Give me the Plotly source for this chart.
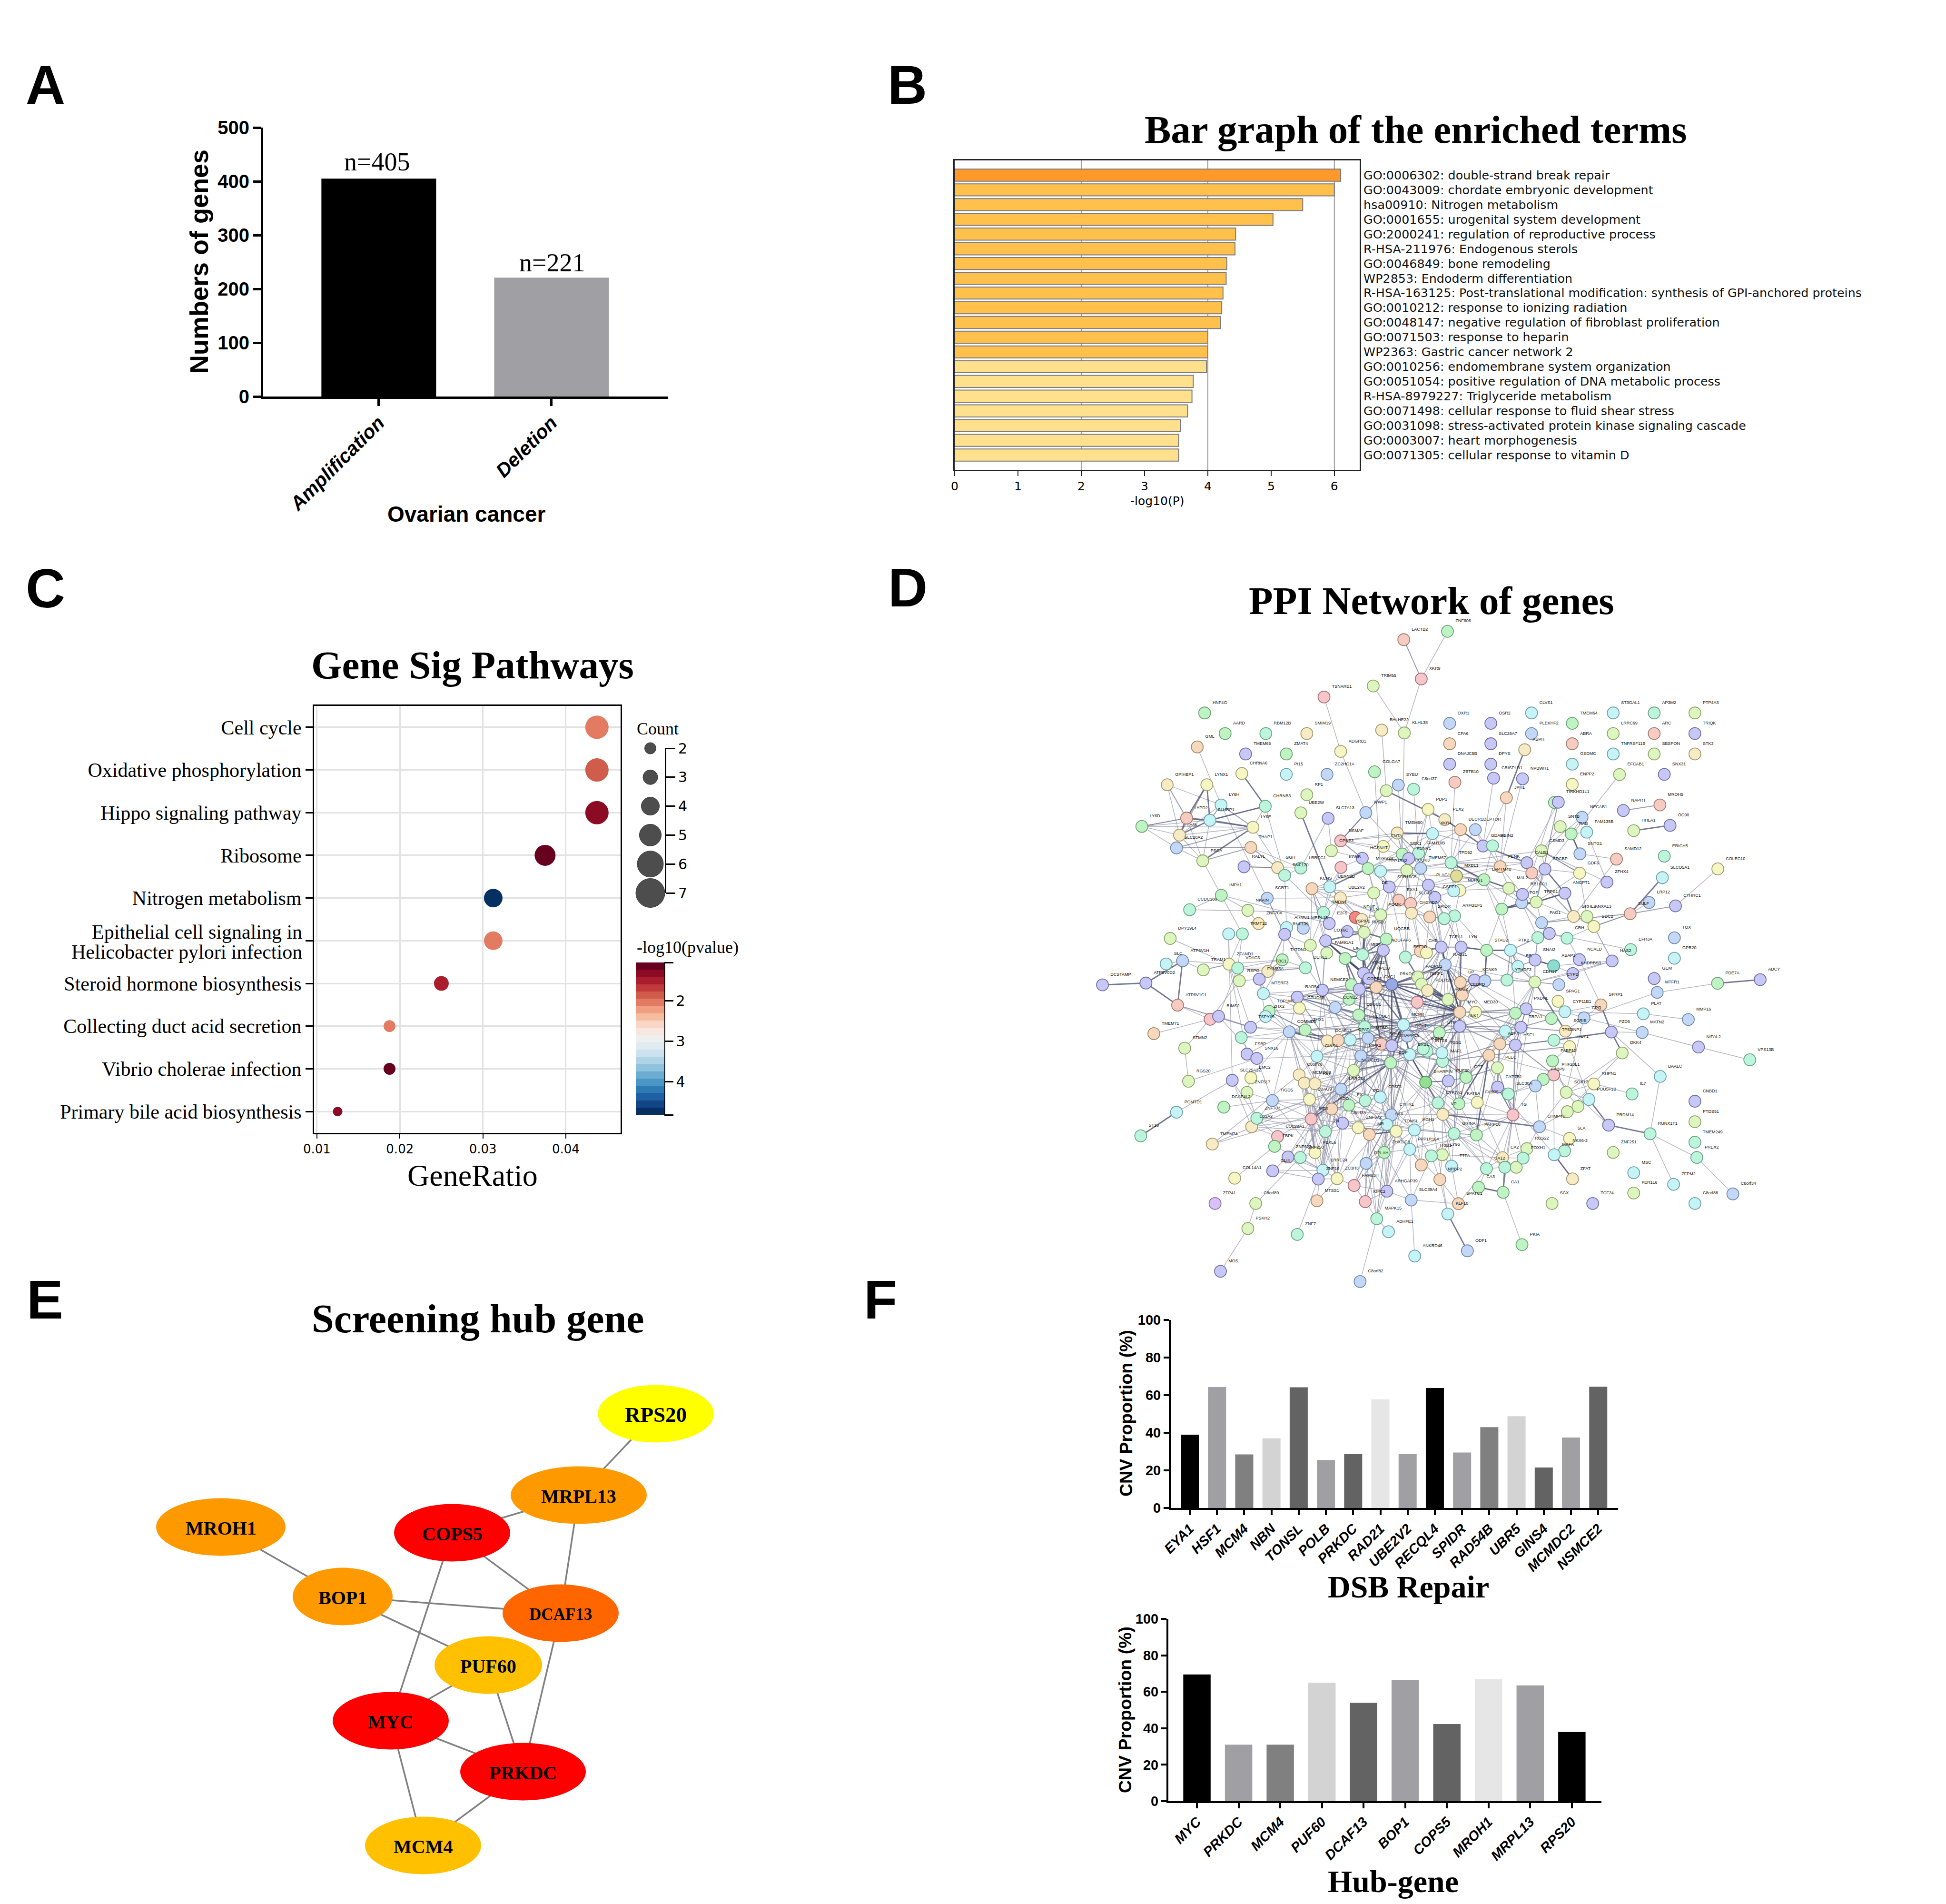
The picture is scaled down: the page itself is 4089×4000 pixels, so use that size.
import plotly.graph_objects as go

W, H = 4089, 4000
SANS, SERIF, DJ = "Liberation Sans", "Liberation Serif", "DejaVu Sans"

# ---------- Panel A
a_cats = ["Amplification", "Deletion"]
a_vals = [405, 221]
a_cols = ["#000000", "#A0A0A4"]
a_notes = ["n=405", "n=221"]

# ---------- Panel B
b_terms = ["GO:0006302: double-strand break repair", "GO:0043009: chordate embryonic development",
           "hsa00910: Nitrogen metabolism", "GO:0001655: urogenital system development",
           "GO:2000241: regulation of reproductive process", "R-HSA-211976: Endogenous sterols",
           "GO:0046849: bone remodeling", "WP2853: Endoderm differentiation",
           "R-HSA-163125: Post-translational modification: synthesis of GPI-anchored proteins",
           "GO:0010212: response to ionizing radiation", "GO:0048147: negative regulation of fibroblast proliferation",
           "GO:0071503: response to heparin", "WP2363: Gastric cancer network 2",
           "GO:0010256: endomembrane system organization", "GO:0051054: positive regulation of DNA metabolic process",
           "R-HSA-8979227: Triglyceride metabolism", "GO:0071498: cellular response to fluid shear stress",
           "GO:0031098: stress-activated protein kinase signaling cascade", "GO:0003007: heart morphogenesis",
           "GO:0071305: cellular response to vitamin D"]
b_vals = [6.1, 6.0, 5.5, 5.03, 4.44, 4.43, 4.3, 4.29, 4.24, 4.22, 4.2, 4.0, 4.0, 3.98, 3.77, 3.75, 3.68, 3.57, 3.54, 3.54]
b_cols = ["#FF9A2A"] + ["#FFC04C"] * 12 + ["#FFE08C"] * 7

# ---------- Panel C
c_paths = ["Cell cycle", "Oxidative phosphorylation", "Hippo signaling pathway", "Ribosome", "Nitrogen metabolism",
           "Epithelial cell signaling in Helicobacter pylori infection", "Steroid hormone biosynthesis",
           "Collecting duct acid secretion", "Vibrio cholerae infection", "Primary bile acid biosynthesis"]
c_two_line = ["Epithelial cell signaling in", "Helicobacter pylori infection"]
c_ratio = [0.04375, 0.04375, 0.04375, 0.0375, 0.03125, 0.03125, 0.025, 0.01875, 0.01875, 0.0125]
c_count = [7, 7, 7, 6, 5, 5, 4, 3, 3, 2]
c_logp = [2.1, 1.9, 1.4, 1.08, 4.8, 2.1, 1.45, 2.0, 1.12, 1.35]
c_point_size = {2: 20, 3: 25, 4: 31, 5: 39, 6: 44, 7: 49}
c_legend_counts = [2, 3, 4, 5, 6, 7]
c_legend_size = [24, 31, 38, 46, 55, 61]
c_scale_cols = ["#053061", "#124585", "#1E60A4", "#2E7AB5", "#4A96C4", "#6BACD1", "#8FC2DD", "#B0D3E6", "#CDE2EF", "#DFEAF1",
                "#EEF0F0", "#F6E7E0", "#FAD6C6", "#F6BCA0", "#F0A080", "#E27B62", "#D05C4C", "#C03A3A", "#AB1C2D", "#8B0B25", "#67001F"]

# ---------- Panel D: nodes as read from four reading frames (frame units)
d_fill = dict(a="#C8C8F6", b="#C2D8F6", c="#C5F3F6", t="#BDF4DC", g="#C0F3C4", l="#DDF5BF", y="#F6F6C4",
              s="#F6EBC4", o="#F6D8BE", p="#F6CCC2", r="#F6C6CA", R="#F58484", D="#DEDE98", B="#98A8E2", G="#94DE94", T="#8EDCD0", V="#D8C0F8")
d_line = dict(a="#7070A8", b="#7088AC", c="#70A0A8", t="#6CA48C", g="#6CA474", l="#90A46C", y="#A0A06C",
              s="#A4986C", o="#A48864", p="#A47C6C", r="#A47074", R="#A45454", D="#888854", B="#546498", G="#549854", T="#54988C", V="#8C70A8")
d_q1 = [("ZNF606",1379,171,"g"),("LACTB2",1219,210,"p"),("XKR9",1283,395,"r"),("TRIM55",1107,428,"l"),("TSNARE1",927,480,"r"),
 ("HNF4G",490,555,"g"),("AARD",565,652,"g"),("RBM12B",714,652,"t"),("SMIM19",864,652,"s"),("GML",463,715,"o"),("BHLHE22",1138,636,"s"),
 ("KLHL38",1221,649,"l"),("OXR1",1387,604,"b"),("TMEM65",640,748,"a"),("ZMAT4",789,748,"g"),("ADGRB1",988,736,"y"),("PI15",789,844,"c"),
 ("ZC2HC1A",938,844,"b"),("GOLGA7",1112,832,"g"),("CPA6",1387,700,"o"),("DNAJC5B",1387,796,"a"),("CHRNA6",626,840,"y"),("GPIHBP1",353,893,"s"),
 ("LYNX1",498,893,"y"),("SYBU",1199,894,"b"),("C8orf37",1255,914,"t"),("#1",1155,921,"l"),("ZBTB10",1406,881,"p"),("RP1",864,940,"l"),
 ("LY6H",550,988,"c"),("CHRNB3",712,994,"t"),("PDP1",1308,1009,"y"),("UBE2W",842,1025,"l"),("WWP1",1080,1024,"b"),("SLC7A13",942,1051,"a"),
 ("LYPD2",424,1050,"p"),("SLURP1",509,1060,"c"),("PEX2",1369,1057,"s"),("LY6D",260,1089,"g"),("LY6E",667,1093,"y"),("XKR4",1324,1123,"c"),
 ("TMEM60",1195,1120,"s"),("DECR1",1427,1104,"o"),("DEPTOR",1481,1104,"b"),("LY6K",398,1130,"s"),("NSMAF",988,1157,"r"),("SLC20A2",387,1190,"b"),
 ("THAP1",659,1188,"o"),("FNTA",1144,1183,"y"),("CPNE3",954,1204,"l"),("GDAP1",1509,1181,"a"),("SGIN2",1544,1180,"t"),("SGK1",1213,1219,"g"),
 ("FAM110B",1273,1215,"t"),("KCNV1",1237,1240,"a"),("HGSNAT",1067,1239,"a"),("PSCA",483,1251,"l"),("TPD52",1392,1260,"t"),("RALYL",634,1279,"a"),
 ("GGH",757,1283,"s"),("RNF170",783,1319,"t"),("LRRCC1",842,1285,"t"),("KCNB",989,1282,"r"),("MRPS28",1088,1287,"g"),("PPP1R42",1134,1300,"c"),
 ("HOOK3",1230,1296,"l"),("TMEM67",1281,1286,"b"),("MXBL1",1412,1322,"D"),("KCNS",883,1382,"o"),("UBXN2B",948,1373,"c"),("PLAG1",1309,1365,"a"),
 ("SDR16C5",1166,1374,"a"),("DE",1109,1402,"l"),("NDRG1",1424,1390,"y"),("#2",1402,1393,"c"),("CSPP1",1333,1423,"a"),("IMPA1",551,1413,"g"),
 ("SCRT1",719,1427,"b"),("UBE2V2",987,1425,"s"),("SLC45",1244,1452,"p"),("EXA1",1201,1436,"p"),("SPIDR",1314,1515,"o"),("ARFGEF1",1405,1510,"t"),
 ("#3",1367,1523,"t"),("CCDC166",435,1481,"t"),("NKAIN",648,1484,"l"),("RMDN1",925,1494,"t"),("CHCHD7",1247,1497,"s"),("POMK",1134,1505,"l"),
 ("NDUF",1042,1517,"R"),("KCN",1065,1527,"s"),("E2F5",946,1546,"a"),("ZNF704",687,1546,"s"),("ARMC1",790,1565,"c"),("MRPL15",851,1568,"b")]
d_q2 = [("OSR2",231,604,"a"),("CLVS1",380,555,"c"),("TMEM64",529,604,"g"),("ST3GAL1",679,555,"c"),("AP3M2",829,555,"t"),("PTP4A3",978,555,"l"),
 ("PLEKHF2",380,652,"b"),("SLC26A7",231,700,"a"),("ABRA",529,700,"p"),("LRRC69",679,652,"l"),("ARC",829,652,"p"),("TRIQK",978,652,"a"),
 ("ASPH",355,728,"s"),("DPYS",231,796,"a"),("GSDMC",529,796,"c"),("TNFRSF11B",679,748,"c"),("SBSPON",829,748,"l"),("STK3",978,748,"s"),
 ("CRISPLD1",241,862,"a"),("NPBWR1",347,865,"a"),("ENPP2",529,891,"y"),("EFCAB1",702,845,"l"),("SNX31",866,844,"a"),("JPH1",288,954,"o"),
 ("#30",464,976,"g"),("TIRKHD1L1",478,975,"a"),("NAPRT",716,1014,"a"),("MROH5",850,988,"p"),("NECAB1",565,1046,"b"),("OC90",887,1084,"a"),
 ("HHLA1",754,1109,"l"),("SNTB",485,1090,"l"),("RAB",525,1124,"g"),("FAM135B",582,1116,"c"),("ERICH5",866,1229,"t"),("CSMD3",416,1204,"l"),
 ("SNTG1",557,1218,"b"),("SAMD12",691,1243,"p"),("COLEC10",1062,1289,"y"),("CALB1",363,1260,"a"),("PENK",265,1278,"o"),("GDF6",556,1309,"y"),
 ("SDCBP",429,1290,"a"),("#31",381,1308,"p"),("ZFHX4",656,1351,"a"),("SLCO5A1",859,1330,"c"),("MAL2",297,1380,"l"),("ANGPT1",502,1403,"a"),
 ("FGF",344,1448,"b"),("RB1CC1",347,1409,"a"),("TRPS1",397,1445,"l"),("LRP12",810,1447,"b"),("CTHRC1",907,1463,"a"),("#32",271,1478,"g"),
 ("GRHL2",534,1513,"s"),("ANXA13",583,1513,"l"),("SULF",741,1500,"p"),("PAG1",417,1542,"b"),("SDC2",608,1560,"y"),("LAPTM4B",206,1340,"g")]
d_q3 = [("DPY19L4",364,45,"l"),("#4",578,25,"c"),("TRMT12",628,25,"t"),("RNF139",783,27,"a"),("YSPIP1",1012,15,"a"),("RPS20",1074,18,"l"),
 ("UQCRB",1155,48,"g"),("COX6C",933,55,"a"),("#5",877,75,"l"),("FAM91A1",937,109,"l"),("ATP6V1H",409,143,"b"),("SLC",349,157,"c"),("TRAM1",485,183,"l"),
 ("ZFAND1",579,158,"y"),("VDAC3",611,175,"t"),("TATDN1",774,139,"g"),("TBC1",721,190,"s"),("FAM83A",690,224,"a"),("RSPO",617,231,"l"),("DERL1",859,174,"t"),
 ("MRP",1068,116,"t"),("EIF",1004,133,"g"),("NDUFAF6",1144,97,"a"),("EEF1D",1225,127,"t"),("CHE",1280,101,"o"),("#6",1302,108,"y"),("TCEA1",1356,83,"a"),
 ("LYN",1429,83,"a"),("STAU2",1522,97,"g"),("RAD21",1371,160,"b"),("ATP6V0D2",275,241,"a"),("DCSTAMP",116,249,"a"),("ATP6V1C1",391,338,"p"),("MTERF3",705,287,"c"),
 ("ATAD2",1072,197,"a"),("RPL30",1091,222,"a"),("CYC1",1118,260,"o"),("PRKDC",1175,247,"B"),("PABPC1",1270,214,"l"),("TERF1",1284,245,"l"),("POLR2K",1306,274,"s"),
 ("NSMCE2",921,272,"a"),("#7",1027,248,"g"),("COPS5",1056,268,"a"),("RAD54",829,303,"a"),("CCNE2",968,348,"b"),("#8",1019,312,"g"),("DSCC1",1054,381,"g"),
 ("GTUD6B",837,351,"y"),("TOP1MT",726,365,"g"),("ZHX2",713,388,"c"),("TSPYL5",658,435,"a"),("#9",510,400,"r"),("RIMS2",541,387,"a"),("TMEM71",304,463,"o"),
 ("COMMD5",800,455,"b"),("ZHX1",858,447,"g"),("RECQL4",1076,433,"t"),("MCM4",1218,424,"c"),("UTP",1349,459,"g"),("ANK1",1424,431,"a"),("MYC",1424,369,"o"),
 ("MED30",1482,369,"y"),("AGO2",1381,313,"l"),("CEBPD",1433,293,"o"),("UP",1426,238,"o"),("#11",1268,325,"r"),("KCNK9",1478,228,"a"),("#12",1516,231,"b"),
 ("MTBP",1088,483,"b"),("DCAF13",939,495,"s"),("#13",979,493,"o"),("GPAT",1023,490,"c"),("SQLE",1137,509,"p"),("TRAPPC9",1175,516,"a"),("DGAT1",1232,474,"b"),
 ("INTS8",1304,540,"t"),("IKBKB",1290,530,"t"),("BRS1",1241,555,"c"),("MAF1",1361,585,"t"),("TGS1",1359,547,"c"),("RIPK2",1062,561,"b"),("GINS4",901,563,"c"),
 ("BOP",1171,591,"g"),("NUDCD1",1035,625,"l"),("FSBP",645,553,"a"),("SNX16",681,572,"a"),("#14",624,480,"t"),("STMN2",417,527,"l"),("RGS20",431,672,"l"),
 ("EMC2",659,657,"y"),("SLC25A32",591,668,"a"),("C8orf76",836,644,"s"),("MCMDC2",855,680,"s"),("R97",894,683,"s"),("LRRC14",989,707,"b"),("SHARPIN",1299,676,"G"),
 ("PUF60",1382,671,"a"),("GPT",1447,655,"g"),("ZNF517",645,721,"l"),("EBAG9",874,752,"y"),("TIGD5",738,757,"b"),("CPSF1",1133,742,"c"),("EX",1018,777,"g"),
 ("PD",1078,758,"t"),("DCAF4L2",560,786,"g"),("PCMTD1",387,808,"c"),("CYP7A1",1344,767,"t"),("KAT6A",1421,771,"g"),("FABP5",1488,765,"y"),("MFS",880,838,"r"),
 ("ADO",955,794,"o"),("CYHR1",1174,820,"b"),("C8orf33",995,856,"a"),("VP",1362,818,"s"),("C52A2",662,872,"s"),("ZNF707",681,835,"t"),("ST18",256,912,"t"),
 ("ZNF572",1052,876,"y"),("AAX",1157,862,"c"),("MR",1093,906,"o"),("TONSL",1191,892,"y"),("HGH1",1258,886,"c"),("ZN",932,893,"t"),("GRINA",1403,902,"t"),
 ("PARP10",1485,908,"g"),("TMEM74",518,948,"s"),("COL22A1",757,915,"r"),("FBPK",746,958,"g"),("ZNF623",795,1005,"a"),("ZNF250",840,1007,"t"),("FBXL6",894,986,"y"),
 ("ZHX1-C8",1147,985,"g"),("PPP1R16A",1241,971,"c"),("LY96",1360,995,"l"),("TRIB1",1320,1000,"t"),("OPLAH",1081,1033,"b"),("TTPA",1394,1045,"c"),("COL14A1",600,1098,"y"),
 ("GLI4",739,1066,"a"),("LRRC24",923,1063,"c"),("ZNF16",906,1102,"a"),("ZC3H3",975,1100,"y"),("#15",1283,1040,"o"),("NRBP2",1351,1104,"o"),("FAM83H",1037,1130,"r"),
 ("ARHGAP39",1157,1155,"a"),("SLC39A4",1246,1194,"b"),("ZFP41",528,1209,"V"),("C8orf89",677,1209,"l"),("MTSS1",901,1197,"o"),("KIFC2",1078,1201,"r"),("SPATC1",1419,1210,"o"),
 ("KLF10",1380,1255,"c"),("MAPK15",1120,1276,"t"),("PSKH2",648,1319,"l"),("ZNF7",829,1345,"t"),("ADHFE1",1163,1333,"c"),("ODF1",1452,1417,"b"),("ANKRD46",1259,1440,"c"),
 ("MOS",548,1507,"a"),("C8orf82",1059,1552,"b")]
d_q4 = [("TOX",903,42,"b"),("GPR20",903,132,"c"),("EFR3A",743,94,"t"),("GEM",829,221,"a"),("PDE7A",1061,242,"g"),("ADCY",1217,226,"a"),("MTFR1",840,282,"b"),("NCALD",555,138,"a"),
 ("HAS2",675,144,"a"),("ASAP1",461,165,"T"),("KHDRBS3",531,199,"a"),("CDH17",392,236,"l"),("SNAI2",393,140,"a"),("PTK2",303,97,"c"),("YTHDF3",290,228,"t"),("RR",330,168,"c"),
 ("CRH",510,44,"t"),("#17",403,41,"t"),("#16",445,23,"a"),("CYP2",480,248,"b"),("SPAG1",477,321,"y"),("PXDNL",360,354,"a"),("CYP11B1",502,367,"c"),("SFRP1",634,337,"o"),
 ("CPQ",572,394,"b"),("PLAT",789,376,"c"),("MMP16",954,401,"b"),("#18",321,373,"g"),("#19",453,397,"g"),("TRPA1",341,435,"a"),("SCRIB",504,452,"s"),("FZD6",672,456,"a"),
 ("MATN2",785,458,"b"),("#20",284,452,"c"),("ABP4",264,508,"o"),("HSF1",321,513,"a"),("TP53INP1",462,492,"t"),("HEY1",519,520,"y"),("DKK4",712,548,"l"),("NIPAL2",991,522,"a"),
 ("VPS13B",1179,578,"t"),("FABP12",457,583,"g"),("#21",224,558,"o"),("PLEC",255,613,"l"),("PHF20L1",461,644,"r"),("BAALC",851,651,"c"),("FABP9",423,664,"g"),("RHPN1",608,684,"y"),
 ("SOX17",507,721,"l"),("CYP7B1",256,698,"a"),("SLC30A",295,728,"t"),("#22",394,693,"b"),("IL7",748,728,"t"),("POU5F1B",590,752,"c"),("CNBD1",978,760,"a"),("#23",550,783,"l"),
 ("#24",511,806,"l"),("TG",312,820,"r"),("PRDM14",662,865,"a"),("CHMP4C",409,872,"b"),("PTDS51",978,850,"l"),("RUNX1T1",814,903,"t"),("SLA",519,923,"y"),("TMEM249",978,940,"t"),
 ("RGS22",363,968,"l"),("NKX6-3",501,978,"t"),("ZNF251",679,985,"l"),("CA2",274,1008,"s"),("#26",324,1050,"l"),("FOXH1",349,1010,"t"),("MAFA",463,995,"c"),("PREX2",985,1007,"t"),
 ("CA12",215,1056,"t"),("#25",282,1050,"t"),("MSC",754,1074,"c"),("ZFAT",530,1101,"s"),("ZFPM2",900,1125,"c"),("CA3",186,1138,"g"),("CA1",276,1160,"g"),("FER1L6",754,1163,"l"),
 ("C8orf34",1117,1167,"b"),("SCX",455,1209,"l"),("TCF24",604,1209,"a"),("C8orf88",978,1209,"c"),("PKIA",345,1390,"g")]

d_edges_thin = """
ZNF606: XKR9
XKR9: KLHL38
TRIM55: KLHL38
TSNARE1: ADGRB1
ADGRB1: WWP1
KLHL38: SGK1
BHLHE22: #1
GOLGA7: PPP1R42
GML: LY6H
SYBU: SGK1
C8orf37: FAM110B
ZBTB10: TPD52
WWP1: #1 KCNV1
SLC7A13: CPNE3 LRRCC1
LY6H: SCRT1 LY6K
LY6E: RNF170 CHRNB3 LY6K
THAP1: LRRCC1
LYPD2: LY6D PSCA
LY6D: SLC20A2 LY6K SLURP1 LY6E
GPIHBP1: LY6K LY6H
SLURP1: CHRNB3 PSCA
CHRNB3: RNF170
LY6K: PSCA
SLC20A2: PSCA
PSCA: IMPA1
IMPA1: CCDC166 NKAIN E2F5 TRMT12
RALYL: GGH
RNF170: ARMC1 LRRCC1 RMDN1
SCRT1: UBE2V2
NKAIN: ZNF704
CCDC166: RMDN1
GGH: LRRCC1
NSMAF: TMEM60 WWP1 CPNE3 FNTA SGK1 DECR1
TMEM60: XKR4 FNTA SGK1 HOOK3 TMEM67
XKR4: TPD52 FAM110B MRPS28 PDP1 GDAP1
PDP1: FAM110B HOOK3 DECR1
DECR1: TPD52 MXBL1 KCNV1
DEPTOR: GDAP1 TPD52 PENK
SGIN2: GDAP1 LAPTM4B PENK
CRISPLD1: GDAP1
NPBWR1: PENK
JPH1: GDAP1 PENK
TIRKHD1L1: CALB1 #30
#30: #31
EFCAB1: SDCBP
SNTB: RAB CSMD3
FAM135B: RAB ZFHX4
NECAB1: RAB CSMD3
CSMD3: CALB1 SDCBP GDF6 TPD52
SNTG1: SAMD12
SAMD12: GRHL2
GDF6: SDCBP TRPS1 ANXA13
ZFHX4: CSMD3
COLEC10: CTHRC1
LRP12: SULF
MXBL1: #2 PLAG1 TPD52 PENK
HGSNAT: KCNB SDR16C5 CPNE3
KCNB: RMDN1 UBXN2B
MRPS28: PPP1R42 HOOK3 SGK1 DE SDR16C5 POMK KCNS
PPP1R42: SDR16C5 TMEM67 EXA1 TPD52 LAPTM4B
HOOK3: TMEM67 SDR16C5 PLAG1 SLC45 KCNV1
TMEM67: TPD52 PLAG1 CSPP1 CHCHD7 PENK
TPD52: PENK LAPTM4B CALB1 FGF #2
PLAG1: CSPP1 #2 NDRG1 SLC45 CHCHD7 LAPTM4B
SDR16C5: DE EXA1 SLC45 CHCHD7 POMK PLAG1
UBXN2B: UBE2V2 KCNS RMDN1 NDUF KCN
KCNS: RMDN1 E2F5 NDUF DE POMK
UBE2V2: RMDN1 KCN DE POMK E2F5
CSPP1: ARFGEF1 SPIDR #2 #3 CHCHD7
NDRG1: ARFGEF1 LAPTM4B MAL2
EXA1: SLC45 CHCHD7 POMK SPIDR
POMK: NDUF CHCHD7 KCN RPS20 UQCRB
CHCHD7: SPIDR #3 TCEA1 CHE
SPIDR: #3 TERF1 RAD21
ARFGEF1: #3 TCEA1 LYN RAD21
LAPTM4B: MAL2 #32 RR
MAL2: FGF RB1CC1 #32 PENK
PENK: #31 CALB1 RB1CC1
#32: FGF TRPS1 STAU2 PTK2
SDCBP: TRPS1 RB1CC1 FGF #31
TRPS1: PAG1 RB1CC1 GRHL2 FGF
FGF: PAG1 RB1CC1 #17 #16
GRHL2: ANXA13 PAG1 SDC2
SDC2: SULF CRH HAS2
#16: CRH #17
NCALD: CRH
HAS2: SDC2 KHDRBS3 CDH17 ASAP1
EFR3A: #16
DPY19L4: ZFAND1
ATP6V1H: SLC TRAM1 ZFAND1
ATP6V1C1: #9
TMEM71: #9
RIMS2: SNX16 TSPYL5 VDAC3
#9: RSPO
STMN2: RGS20 #9
RGS20: SNX16
TRMT12: ZFAND1 VDAC3
#4: SLC25A32 ZFAND1
ZFAND1: VDAC3 TATDN1 TSPYL5 FSBP
VDAC3: TBC1 DERL1 TATDN1
TATDN1: DERL1 TBC1 FAM83A MTERF3
RNF139: TATDN1 DERL1 NSMCE2 #5
FAM83A: RSPO MTERF3 ZHX2 COMMD5
MTERF3: NSMCE2 RAD54 GTUD6B
TOP1MT: GTUD6B COMMD5 DCAF13 MCM4
ZHX2: TSPYL5 COMMD5
TSPYL5: #14 COMMD5 ZHX1
#14: DCAF13 COMMD5
FSBP: SNX16 COMMD5
SNX16: TIGD5 GINS4
EMC2: ZNF517 COMMD5
SLC25A32: PCMTD1 C52A2 ZNF707
ZNF517: ZNF707 TIGD5
DCAF4L2: TIGD5
TMEM74: EX LRRC14 C8orf76
COMMD5: GINS4 TIGD5 ZHX1 C8orf76 MCMDC2 R97 LRRC14 EBAG9 ADO
GINS4: RIPK2 C8orf76 R97 LRRC14 EBAG9 DCAF13 NUDCD1 BOP
TIGD5: EBAG9 ADO MFS C52A2 FBXL6
C52A2: COL22A1 MFS ZN
COL22A1: FBPK MFS ZNF707
ZNF707: MFS EBAG9 LRRC14 ZN
FBPK: COL14A1 LRRC24
ZNF623: GLI4 ZNF250 LRRC24 FBXL6 ZNF16 MFS
ZNF250: C8orf89 MFS ADO FBXL6 ZC3H3
C8orf89: PSKH2
PSKH2: MOS
GLI4: LRRC24 ZNF16
ZNF16: ZNF7 LRRC24 ZC3H3 ADO
LRRC24: FBXL6 ADO C8orf33 ZN
MTSS1: ZC3H3 ZN
ZC3H3: MFS C8orf33 FAM83H ZN ZNF572
FAM83H: ARHGAP39 KIFC2 ZHX1-C8 OPLAH MR
ARHGAP39: KIFC2 MAPK15 SLC39A4 OPLAH ZHX1-C8 PPP1R16A HGH1
KIFC2: MAPK15 OPLAH MR
MAPK15: C8orf82 ADHFE1 OPLAH ZHX1-C8
SLC39A4: ANKRD46 PPP1R16A ZHX1-C8 TRIB1
SPATC1: NRBP2 TTPA SLC39A4 CA12
KLF10: NRBP2
NRBP2: TRIB1 LY96 PPP1R16A
TTPA: GRINA VP LY96
LY96: TRIB1 GRINA VP CA2
#15: PPP1R16A HGH1 TONSL
TRIB1: HGH1 GRINA
OPLAH: ZHX1-C8 MR TONSL
ZHX1-C8: PPP1R16A TONSL MR AAX HGH1
PPP1R16A: HGH1 GRINA PARP10 AAX
MFS: ZN ADO C8orf33 EX LRRC14 FBXL6
ZN: C8orf33 ZNF572 FBXL6 ADO EX
ADO: LRRC14 EX C8orf33 PD CYHR1 ZNF572
LRRC14: EX PD CPSF1 C8orf33 NUDCD1 R97 EBAG9 MCMDC2
EX: PD CPSF1 C8orf33 ZNF572 CYHR1 MR
PD: CPSF1 CYHR1 ZNF572 AAX
CPSF1: CYHR1 AAX BOP NUDCD1 HGH1
CYHR1: AAX TONSL HGH1 C8orf33 VP CYP7A1
C8orf33: ZNF572 AAX MR
ZNF572: MR AAX TONSL
AAX: MR TONSL HGH1 GRINA
TONSL: HGH1 MR
HGH1: GRINA PARP10 VP CYP7A1
VP: CYP7A1 GRINA PARP10 KAT6A TG CA12
KAT6A: FABP5 GPT PARP10 PUF60 GRINA
FABP5: PARP10 GPT #21 CA2
GRINA: PARP10 TG CA2 CA12 #25
PARP10: TG CA2 #21 PLEC CA12
TG: CHMP4C FOXH1 CA2 #22 SLC30A CYP7B1 CA12 #25 CA1
CA2: FOXH1 RGS22 #26 #25 CA12
CA3: CA1 CA12
CA12: #25
CA1: PKIA
CHMP4C: SLA #22 #24 SOX17 RGS22
MAFA: ZFAT NKX6-3 CYP7B1 PHF20L1
SOX17: RHPN1 POU5F1B #23 FABP12 DKK4
#24: #23 POU5F1B DKK4
FABP12: SOX17 HEY1
HEY1: POU5F1B TP53INP1 SCRIB
PHF20L1: FABP9 PRDM14
FABP9: SLC30A #22
#22: SLC30A
IL7: #21
BAALC: FZD6 RUNX1T1
RUNX1T1: ZFPM2 PREX2
PREX2: C8orf34
NIPAL2: VPS13B MATN2
MTFR1: PDE7A CPQ
PLAT: CYP11B1 MMP16
MATN2: FZD6 CPQ
KHDRBS3: CDH17 ASAP1
NCALD: SFRP1
SFRP1: CPQ CYP11B1
CPQ: SCRIB CYP11B1
SOX17: CPQ
#1: NSMAF SYBU
MYC: ZHX1 GINS4 RIPK2 BOP MTBP DCAF13 NSMCE2 RAD54 COMMD5 HSF1 PXDNL TG GRINA VP FABP5 CYP7A1 KAT6A SHARPIN
PRKDC: RAD54 NSMCE2 DSCC1 RECQL4 CCNE2 TGS1 MAF1 UTP ANK1 BOP GINS4 COMMD5
RAD21: BRS1 SHARPIN HSF1 CDH17 PXDNL TGS1 CEBPD #18 KAT6A
MCM4: GINS4 NUDCD1 PD LRRC14 ZHX1 GTUD6B COMMD5 CYHR1
BOP: ADO MFS R97 MCMDC2 AAX ZNF572 TONSL VP GRINA PARP10 HGH1
BRS1: AAX TONSL ZNF572 MR GRINA VP KAT6A
TRAPPC9: PD CPSF1 NUDCD1 SHARPIN CYHR1 MAF1
SQLE: RIPK2 CPSF1 ADO MFS GINS4
SHARPIN: TONSL AAX GRINA PARP10 VP KAT6A FABP5 KLF10 #15
LRRC14: MFS ZNF623 ZNF250 LRRC24 ZNF16 ZC3H3 AAX MR TONSL
R97: ZN MFS ADO FBXL6 C8orf33
C8orf76: LRRC14 MFS ZN FBXL6
MCMDC2: ZN FBXL6 LRRC24 ZNF16
EBAG9: FBXL6 C8orf33 ZN ZC3H3
CYHR1: ZC3H3 FAM83H OPLAH MR ZHX1-C8 ARHGAP39 KIFC2
AAX: ARHGAP39 OPLAH FAM83H KIFC2 MAPK15
TONSL: ARHGAP39 ZHX1-C8 MAPK15 PPP1R16A
MR: MAPK15 ARHGAP39
#13: ZN ADO R97
GPAT: PD EX CPSF1 ADO MFS
MTBP: PD EX LRRC14 CYHR1 AAX
UQCRB: RIPK2 BOP SQLE
RPS20: MCM4 BOP MTBP
NSMCE2: GINS4 DCAF13 #13 GPAT RIPK2
RAD54: GINS4 DSCC1 COMMD5
TCEA1: MCM4 DGAT1 BRS1
LYN: UTP ANK1 GRINA PUF60
CDH17: TG ABP4 GPT
PTK2: #18 CDH17
#18: TG KAT6A GPT
TRPA1: TG PLEC
PXDNL: HSF1 ABP4
FABP5: TG
HOOK3: MRP EEF1D CHE
SDR16C5: NDUFAF6 EEF1D
DE: UQCRB MRP
SLC45: EEF1D TCEA1
PLAG1: TCEA1 LYN STAU2
CSPP1: LYN TCEA1 RAD21
KCNS: COX6C FAM91A1 #5
RMDN1: #5 COX6C
NDUF: MRP
POMK: NDUFAF6 MRP
"""
d_edges_mid = """
LACTB2: XKR9
LYNX1: LY6K
GPIHBP1: LYPD2
LY6D: LYPD2
LY6H: SLURP1 LY6E
LY6E: SLC20A2 LYPD2
SLC20A2: THAP1
THAP1: PSCA GGH
GGH: RNF170 RALYL
WWP1: NSMAF
NSMAF: HGSNAT
TMEM60: FAM110B
XKR4: TMEM67
SCRT1: RNF139
NAPRT: MROH5
SNTB: RAB
SNTG1: RAB
TIRKHD1L1: TRPS1
CSMD3: GDF6
CTHRC1: SULF
SULF: SDC2 PAG1
TPD52: MXBL1
LAPTM4B: MXBL1
RB1CC1: MAL2
#31: GRHL2
TRPS1: ANGPT1 FGF
TRAM1: ZFAND1
ATP6V1C1: TSPYL5
TBC1: DERL1 RNF139
NSMCE2: RAD54 COPS5 MCM4 #7 #5 COX6C
RAD54: DCAF13 RECQL4 MCM4 COPS5
CCNE2: DSCC1 RECQL4 #8 RAD54 MCM4
DSCC1: RECQL4 MCM4 RIPK2 BRS1
RECQL4: MCM4 MTBP DGAT1 BRS1 SQLE UTP
MCM4: DGAT1 SQLE MTBP TRAPPC9 BRS1 TGS1 IKBKB MYC UTP ANK1
MTBP: GPAT #13 RIPK2 TRAPPC9 SQLE DGAT1
DCAF13: #13 GPAT BOP BRS1 MTBP TOP1MT
RIPK2: BOP BRS1 NUDCD1 MFS PD SQLE
BOP: BRS1 CPSF1 NUDCD1 LRRC14 TGS1 SHARPIN CYHR1
BRS1: TGS1 SHARPIN MAF1 UTP IKBKB SQLE INTS8 CYHR1 CYP7A1
NUDCD1: BOP CPSF1 LRRC14
SHARPIN: CYP7A1 PUF60 TGS1 ANK1 MAF1
TGS1: MAF1 UTP ANK1 GPT
MAF1: GPT #21 ABP4
UTP: ANK1 MYC AGO2 #20
ANK1: MYC #20 ABP4 #18 TRPA1
MED30: #18 PXDNL TRPA1 CEBPD
MYC: MED30 CEBPD AGO2 POLR2K TERF1 PABPC1 #11 UP KCNK9 LYN TCEA1 RAD21 TRAPPC9 SQLE CYC1 PRKDC ATAD2
AGO2: CEBPD POLR2K TERF1 UP #11 KCNK9
CEBPD: UP KCNK9 #12 RAD21
UP: KCNK9 #12 LYN
KCNK9: #12 YTHDF3
TCEA1: LYN RAD21 EEF1D PABPC1
LYN: STAU2 RAD21 UP
RAD21: PABPC1 TERF1 POLR2K UP
STAU2: PTK2 RR #12
PTK2: SNAI2 RR #17 YTHDF3
SNAI2: RR ASAP1 CDH17 #17
RR: CDH17 YTHDF3
CDH17: YTHDF3 PXDNL CYP2
PXDNL: #18 CYP11B1 TRPA1 #19
TRPA1: #19 #20 HSF1 ABP4 SCRIB
HSF1: ABP4 TG PHF20L1 TP53INP1
ABP4: #21 PLEC CYP7B1 #20
#21: PLEC GPT HEY1
PLEC: CYP7B1 GPT TG
CYP7B1: SLC30A TG
GPT: PUF60 KAT6A CYP7A1
PUF60: CYP7A1 SHARPIN
TONSL: ZNF572
TP53INP1: HSF1
"""
d_edges_thick = """
CHRNA6: CHRNB3
LYNX1: LYPD2 SLURP1
LY6K: LYPD2 SLURP1
SLURP1: LY6E CHRNB3 LYPD2
PSCA: LY6E
UBE2W: UBXN2B
#1: PEX2
PEX2: GDAP1
GDAP1: CALB1
ASPH: JPH1
HHLA1: OC90
SLCO5A1: SULF
RAB: SNTG1
TPD52: LAPTM4B
LAPTM4B: MAL2
SDCBP: ANGPT1
ANGPT1: GRHL2 TRPS1
TRPS1: #32
FGF: #32
DCSTAMP: ATP6V0D2
ATP6V0D2: ATP6V1H ATP6V1C1
ATP6V1H: ATP6V1C1
ODF1: KLF10
PDE7A: ADCY
FZD6: SFRP1 DKK4
RUNX1T1: PRDM14
ST18: PCMTD1
TMEM60: XKR4
MAFA: ZFAT
PRDM14: POU5F1B
SCRIB: CDH17
TP53INP1: FZD6
#12: STAU2
CA3: CA1
CA1: #25
MRPS28: UBXN2B
NDUF: RPS20
MRP: ATAD2 RPL30 UQCRB RPS20 EIF
RPS20: ATAD2 COX6C UQCRB YSPIP1
UQCRB: ATAD2 RPL30 NDUFAF6 COPS5
NDUFAF6: RPL30 CYC1 PRKDC MRP
COX6C: RPL30 MRP EIF ATAD2
EIF: ATAD2 COPS5 RPL30 #7
ATAD2: RPL30 COPS5 CYC1 PRKDC MCM4 RECQL4 DSCC1
RPL30: COPS5 PRKDC CYC1 SQLE
COPS5: CYC1 PRKDC #7 MYC
CYC1: PRKDC
PRKDC: MYC PABPC1 TERF1 POLR2K MCM4 RAD21 TRAPPC9 BRS1
PABPC1: TERF1 POLR2K AGO2 EEF1D
TERF1: POLR2K AGO2 RAD21
POLR2K: AGO2 MYC #11
MYC: AGO2 ANK1 UTP RAD21 MCM4 TCEA1
TCEA1: CHE
LYN: STAU2
STAU2: PTK2
SNAI2: ASAP1
MCM4: BOP TRAPPC9
COMMD5: DCAF13 GPAT
DCAF13: RECQL4
MR: TONSL
KAT6A: #21
PARP10: #21
VP: CHMP4C
BOP: MFS
SHARPIN: BRS1
"""
# ---------- Panel E
e_names = ["RPS20", "MRPL13", "MROH1", "COPS5", "BOP1", "DCAF13", "PUF60", "MYC", "PRKDC", "MCM4"]
e_x = [1378, 1216, 464, 950, 720, 1178, 1026, 821, 1099, 889]
e_y = [2970, 3141, 3208, 3220, 3354, 3389, 3498, 3615, 3722, 3877]
e_rx = [122, 143, 136, 122, 105, 122, 113, 122, 132, 122]
e_cols = ["#FFFF00", "#FF9900", "#FF9900", "#FF0000", "#FF9900", "#FF6600", "#FFC000", "#FF0000", "#FF0000", "#FFC000"]
e_font = [45, 40, 40, 40, 40, 35, 40, 40, 40, 40]
e_edges = [("RPS20", "MRPL13"), ("MRPL13", "COPS5"), ("MRPL13", "DCAF13"), ("COPS5", "DCAF13"), ("COPS5", "MYC"),
           ("MROH1", "BOP1"), ("BOP1", "DCAF13"), ("BOP1", "PUF60"), ("PUF60", "MYC"), ("PUF60", "PRKDC"),
           ("DCAF13", "PRKDC"), ("MYC", "PRKDC"), ("MYC", "MCM4"), ("PRKDC", "MCM4")]

# ---------- Panel F
f1_genes = ["EYA1", "HSF1", "MCM4", "NBN", "TONSL", "POLB", "PRKDC", "RAD21", "UBE2V2", "RECQL4", "SPIDR", "RAD54B", "UBR5", "GINS4", "MCMDC2", "NSMCE2"]
f1_vals = [39, 64.3, 28.5, 37, 64.2, 25.5, 28.6, 57.8, 28.7, 63.8, 29.5, 43, 48.8, 21.5, 37.5, 64.5]
f1_cols = ["#000000", "#A0A0A4", "#808080", "#D3D3D3", "#636363", "#A0A0A4", "#636363", "#E6E6E6", "#A0A0A4", "#000000", "#A0A0A4", "#808080", "#D3D3D3", "#636363", "#A0A0A4", "#636363"]
f2_genes = ["MYC", "PRKDC", "MCM4", "PUF60", "DCAF13", "BOP1", "COPS5", "MROH1", "MRPL13", "RPS20"]
f2_vals = [69.5, 31, 31, 65, 54, 66.5, 42.3, 67, 63.5, 38]
f2_cols = ["#000000", "#A0A0A4", "#808080", "#D3D3D3", "#636363", "#A0A0A4", "#636363", "#E6E6E6", "#A0A0A4", "#000000"]


def dx(a, b):
    return [a / W, b / W]


def dy(top, bottom):
    return [1 - bottom / H, 1 - top / H]


def font(family, size, color="#000000", **kw):
    return dict(family=family, size=size, color=color, **kw)


anns = []


def ann(text, x, y, size, family=SANS, angle=0, xanchor="center", color="#000000"):
    anns.append(dict(text=text, x=x / W, y=1 - y / H, xref="paper", yref="paper", showarrow=False, textangle=angle,
                     xanchor=xanchor, yanchor="middle", font=font(family, size, color)))


fig = go.Figure()
layout = dict(width=W, height=H, autosize=False, margin=dict(l=0, r=0, t=0, b=0, pad=0, autoexpand=False), paper_bgcolor="#FFFFFF",
              plot_bgcolor="rgba(0,0,0,0)", showlegend=False)

# ---- canvas axes for the two network panels
layout["xaxis9"] = dict(domain=[0, 1], range=[0, W], visible=False, anchor="y9", fixedrange=True)
layout["yaxis9"] = dict(domain=[0, 1], range=[H, 0], visible=False, anchor="x9", fixedrange=True)

# ---- A
fig.add_bar(x=a_cats, y=a_vals, width=0.664, marker=dict(color=a_cols, line_width=0), xaxis="x", yaxis="y")
layout["xaxis"] = dict(domain=dx(553, 1404), range=[-0.669, 1.675], type="category", anchor="y", showline=True, linewidth=5, linecolor="#000",
                       ticks="outside", ticklen=15, tickwidth=5, tickcolor="#000", tickangle=-45, showgrid=False, zeroline=False, ticklabelstandoff=-5,
                       tickfont=font(SANS, 41, weight=700, style="italic"))
layout["yaxis"] = dict(domain=dy(268, 833), range=[0, 500], dtick=100, anchor="x", showline=True, linewidth=5, linecolor="#000",
                       ticks="outside", ticklen=16, tickwidth=5, tickcolor="#000", showgrid=False, zeroline=False,
                       tickfont=font(SANS, 40, weight=700))
ann("<b>A</b>", 95, 178, 115)
ann("<b>Numbers of genes</b>", 418, 550, 54, angle=-90)
ann("<b>Ovarian cancer</b>", 980, 1080, 46)
ann(a_notes[0], 792, 340, 54, SERIF)
ann(a_notes[1], 1160, 552, 54, SERIF)

# ---- B
fig.add_bar(x=b_vals, y=b_terms, orientation="h", width=0.82, marker=dict(color=b_cols, line=dict(color="#7A7A80", width=2)), xaxis="x2", yaxis="y2")
layout["xaxis2"] = dict(domain=dx(2006, 2857), range=[0, 6.4], anchor="y2", dtick=1, showgrid=False, zeroline=False, showline=True, linewidth=3,
                        linecolor="#222", mirror=True, ticks="outside", ticklen=10, tickcolor="#222", tickwidth=2, tickfont=font(DJ, 25))
layout["yaxis2"] = dict(domain=dy(337, 987), range=[20, -1], type="category", anchor="x2", side="right", showline=True, linewidth=3,
                        linecolor="#222", mirror=True, ticks="", showgrid=False, zeroline=False, tickfont=font(DJ, 25.4, "#111111"))
ann("<b>B</b>", 1906, 178, 115)
ann("<b>Bar graph of the enriched terms</b>", 2975, 272, 83, SERIF)
ann("-log10(P)", 2432, 1052, 25, DJ)
b_grid = []
for v in [2, 4, 6]:
    b_grid.append(dict(type="line", xref="x2", yref="paper", x0=v, x1=v, y0=1 - 987 / H, y1=1 - 337 / H, line=dict(color="#9A9A9A", width=2), layer="below"))

# ---- C
c_steps = []
n = len(c_scale_cols)
for i, col in enumerate(c_scale_cols):
    c_steps += [[i / n, col], [(i + 1) / n, col]]
fig.add_scatter(x=c_ratio, y=c_paths, mode="markers", xaxis="x3", yaxis="y3", cliponaxis=False,
                marker=dict(size=[c_point_size[c] for c in c_count], opacity=1, color=[-v for v in c_logp], colorscale=c_steps, cmin=-4.81, cmax=-1.06, line_width=0,
                            colorbar=dict(x=1336 / W, xanchor="left", xpad=0, y=1 - 2342 / H, yanchor="bottom", ypad=0, thickness=60, thicknessmode="pixels",
                                          len=320, lenmode="pixels", outlinewidth=0, ticks="outside", ticklen=19, tickwidth=3, tickcolor="#000",
                                          tickmode="array", tickvals=[-4.81, -4, -3, -2, -1.06], ticktext=["", "4", "3", "2", ""], tickfont=font(DJ, 30))))
layout["xaxis3"] = dict(domain=dx(660, 1304), range=[0.00966, 0.0466], anchor="y3", tickvals=[0.01, 0.02, 0.03, 0.04], ticktext=["0.01", "0.02", "0.03", "0.04"],
                        showgrid=True, gridcolor="#E2E2E2", gridwidth=3, zeroline=False, showline=True, linewidth=3, linecolor="#000", mirror=True,
                        ticks="outside", ticklen=9, tickwidth=2, tickcolor="#000", tickfont=font(DJ, 26))
layout["yaxis3"] = dict(domain=dy(1483, 2380), range=[9.5, -0.5], type="category", anchor="x3", showgrid=True, gridcolor="#E2E2E2", gridwidth=3,
                        zeroline=False, showline=True, linewidth=3, linecolor="#000", mirror=True, ticks="outside", ticklen=15, tickwidth=3, tickcolor="#000",
                        tickmode="array", tickvals=c_paths, ticktext=[" " if p.startswith("Epithelial") else p for p in c_paths],
                        tickfont=font(SERIF, 42))
ann(c_two_line[0], 637, 1958, 42, SERIF, xanchor="right")
ann(c_two_line[1], 637, 2000, 42, SERIF, xanchor="right")
ann("<b>C</b>", 95, 1236, 115)
ann("<b>Gene Sig Pathways</b>", 993, 1397, 83, SERIF)
ann("GeneRatio", 993, 2469, 64, SERIF)
ann("Count", 1336, 1531, 36, SERIF, xanchor="left")
ann("-log10(pvalue)", 1336, 1990, 36, SERIF, xanchor="left")

fig.add_scatter(x=[0] * 6, y=c_legend_counts, mode="markers", xaxis="x4", yaxis="y4", cliponaxis=False,
                marker=dict(size=c_legend_size, opacity=1, color="#4D4D4D", line=dict(color="#333333", width=1)))
layout["xaxis4"] = dict(domain=dx(1336, 1397), range=[-1, 1], anchor="y4", visible=False)
layout["yaxis4"] = dict(domain=dy(1572, 1876), range=[7, 2], dtick=1, anchor="x4", side="right", showline=True, linewidth=3, linecolor="#000",
                        ticks="outside", ticklen=19, tickwidth=3, tickcolor="#000", showgrid=False, zeroline=False, tickfont=font(DJ, 30))

# ---- D
d_all = []
for rows, x0, y0, sy in [(d_q1, 2250, 1250, 700), (d_q2, 3000, 1250, 700), (d_q3, 2250, 1950, 750), (d_q4, 3000, 1950, 750)]:
    for key, fx, fy, c in rows:
        d_all.append((key, x0 + fx * 900 / 1568, y0 + fy * sy / 1568, c))
d_pos = {k: (x, y) for k, x, y, c in d_all}


def edge_xy(text):
    xs, ys = [], []
    for line in text.strip().splitlines():
        hub, rest = line.split(":")
        for other in rest.split():
            if hub in d_pos and other in d_pos:
                xs += [d_pos[hub][0], d_pos[other][0], None]
                ys += [d_pos[hub][1], d_pos[other][1], None]
            else:
                print("missing", hub, other)
    return xs, ys


for text, col, wd in [(d_edges_thin, "rgba(140,140,165,0.65)", 1.5), (d_edges_mid, "rgba(100,105,135,0.65)", 2.0), (d_edges_thick, "rgba(70,75,110,0.75)", 2.8)]:
    ex, ey = edge_xy(text)
    fig.add_scatter(x=ex, y=ey, mode="lines", line=dict(color=col, width=wd), xaxis="x9", yaxis="y9", hoverinfo="skip")
fig.add_scatter(x=[r[1] for r in d_all], y=[r[2] for r in d_all], mode="markers+text",
                text=["" if r[0].startswith("#") else r[0] for r in d_all], textposition="top right",
                textfont=font(SANS, 9, "#111111"), xaxis="x9", yaxis="y9", cliponaxis=False,
                marker=dict(size=25, opacity=1, color=[d_fill[r[3]] for r in d_all], line=dict(color=[d_line[r[3]] for r in d_all], width=1.8)))
ann("<b>D</b>", 1907, 1234, 115)
ann("<b>PPI Network of genes</b>", 3008, 1262, 83, SERIF)

# ---- E
e_idx = {n: i for i, n in enumerate(e_names)}
ex, ey = [], []
for a, b in e_edges:
    ex += [e_x[e_idx[a]], e_x[e_idx[b]], None]
    ey += [e_y[e_idx[a]], e_y[e_idx[b]], None]
fig.add_scatter(x=ex, y=ey, mode="lines", line=dict(color="#808080", width=3.5), xaxis="x9", yaxis="y9", hoverinfo="skip")
e_shapes = []
for i, nm in enumerate(e_names):
    e_shapes.append(dict(type="circle", xref="x9", yref="y9", x0=e_x[i] - e_rx[i], x1=e_x[i] + e_rx[i], y0=e_y[i] - 60.5, y1=e_y[i] + 60.5,
                         fillcolor=e_cols[i], line_width=0, layer="above"))
e_text = [dict(x=e_x[i], y=e_y[i] + 2, xref="x9", yref="y9", text=f"<b>{nm}</b>", showarrow=False, font=font(SERIF, e_font[i])) for i, nm in enumerate(e_names)]
ann("<b>E</b>", 94, 2730, 115)
ann("<b>Screening hub gene</b>", 1004, 2770, 84, SERIF)

# ---- F
fig.add_bar(x=f1_genes, y=f1_vals, width=0.664, marker=dict(color=f1_cols, line_width=0), xaxis="x5", yaxis="y5")
fig.add_bar(x=f2_genes, y=f2_vals, width=0.657, marker=dict(color=f2_cols, line_width=0), xaxis="x6", yaxis="y6")
for sx, sy, xd, yd, rng in [("xaxis5", "yaxis5", dx(2460, 3400), dy(2773, 3168), [-0.70, 15.73]), ("xaxis6", "yaxis6", dx(2455, 3365), dy(3401, 3784), [-0.686, 9.71])]:
    layout[sx] = dict(domain=xd, range=rng, type="category", anchor=sy.replace("axis", ""), showline=True, linewidth=4, linecolor="#000", ticks="outside", ticklen=11, tickwidth=4,
                      tickcolor="#000", tickangle=-45, showgrid=False, zeroline=False, tickfont=font(SANS, 29, weight=700, style="italic"))
    layout[sy] = dict(domain=yd, range=[0, 100], dtick=20, anchor=sx.replace("axis", ""), showline=True, linewidth=4, linecolor="#000", ticks="outside", ticklen=11, tickwidth=4,
                      tickcolor="#000", showgrid=False, zeroline=False, tickfont=font(SANS, 29, weight=700))
ann("<b>F</b>", 1850, 2730, 115)
ann("<b>CNV Proportion (%)</b>", 2366, 2969, 37.5, angle=-90)
ann("<b>CNV Proportion (%)</b>", 2364, 3592, 37.5, angle=-90)
ann("<b>DSB Repair</b>", 2959, 3333, 66, SERIF)
ann("<b>Hub-gene</b>", 2927, 3952, 66, SERIF)

# ---- colourbar edge
extra = [dict(type="line", xref="paper", yref="paper", x0=1396 / W, x1=1396 / W, y0=1 - 2342 / H, y1=1 - 2022 / H, line=dict(color="#000", width=3))]

layout["shapes"] = b_grid + e_shapes + extra
layout["annotations"] = anns + e_text
fig.update_layout(**layout)
fig.write_html("out.html", config=dict(displayModeBar=False), post_script="document.body.style.margin='0';document.body.style.overflow='hidden';")
